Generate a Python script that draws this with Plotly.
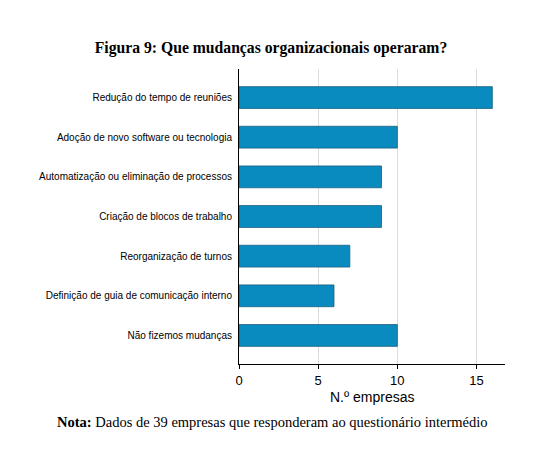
import plotly.graph_objects as go

# categorias e valores
categorias = [
    "Redução do tempo de reuniões",
    "Adoção de novo software ou tecnologia",
    "Automatização ou eliminação de processos",
    "Criação de blocos de trabalho",
    "Reorganização de turnos",
    "Definição de guia de comunicação interno",
    "Não fizemos mudanças",
]
n_empresas = [16, 10, 9, 9, 7, 6, 10]
x_ticks = [0, 5, 10, 15]

titulo = "<b>Figura 9: Que mudanças organizacionais operaram?</b>"
nota = "<b>Nota:</b> Dados de 39 empresas que responderam ao questionário intermédio"
titulo_x = "N.º empresas"

# a página tem margem de 8px, por isso tudo é deslocado
L, R, T, B = 231, 40, 61, 94
W, H = 537, 450
pw, ph = W - L - R, H - T - B

fig = go.Figure(go.Bar(
    x=n_empresas,
    y=categorias,
    orientation="h",
    width=0.55,
    marker=dict(color="#0a8bbf", line=dict(color="#1b5f7f", width=0.8)),
))

fig.update_layout(
    width=W,
    height=H,
    margin=dict(l=L, r=R, t=T, b=B),
    paper_bgcolor="white",
    plot_bgcolor="white",
    showlegend=False,
    title=dict(
        text=titulo,
        x=263 / W, xanchor="center", xref="container",
        y=1 - 40 / H, yref="container", yanchor="middle",
        font=dict(family="Liberation Serif", size=15.7, color="black"),
    ),
    font=dict(family="Liberation Sans", color="black"),
)

fig.update_xaxes(
    range=[0, 16.8],
    tickvals=x_ticks,
    ticks="outside", ticklen=4, tickcolor="black",
    tickfont=dict(size=13, family="Liberation Sans"),
    showline=True, linecolor="black", linewidth=1,
    showgrid=True, gridcolor="#dcdcdc", gridwidth=1,
    zeroline=False,
)
fig.update_yaxes(
    categoryorder="array",
    categoryarray=categorias,
    range=[6.72, -0.72],
    showline=True, linecolor="black", linewidth=1,
    ticks="", ticklabelstandoff=4,
    tickfont=dict(size=10, family="Liberation Sans"),
    showgrid=False,
)

# título do eixo x, perto dos números como no original
fig.add_annotation(
    text=titulo_x,
    xref="paper", yref="paper",
    x=0.5, xanchor="center",
    y=-(389 - (H - B)) / ph, yanchor="middle",
    showarrow=False,
    font=dict(family="Liberation Sans", size=14, color="black"),
)

# nota de rodapé, posicionada relativamente à área do gráfico
fig.add_annotation(
    text=nota,
    xref="paper", yref="paper",
    x=(264 - L) / pw, xanchor="center",
    y=-(414 - (H - B)) / ph, yanchor="middle",
    showarrow=False,
    font=dict(family="Liberation Serif", size=14.5, color="black"),
)

fig.write_html("out.html")
